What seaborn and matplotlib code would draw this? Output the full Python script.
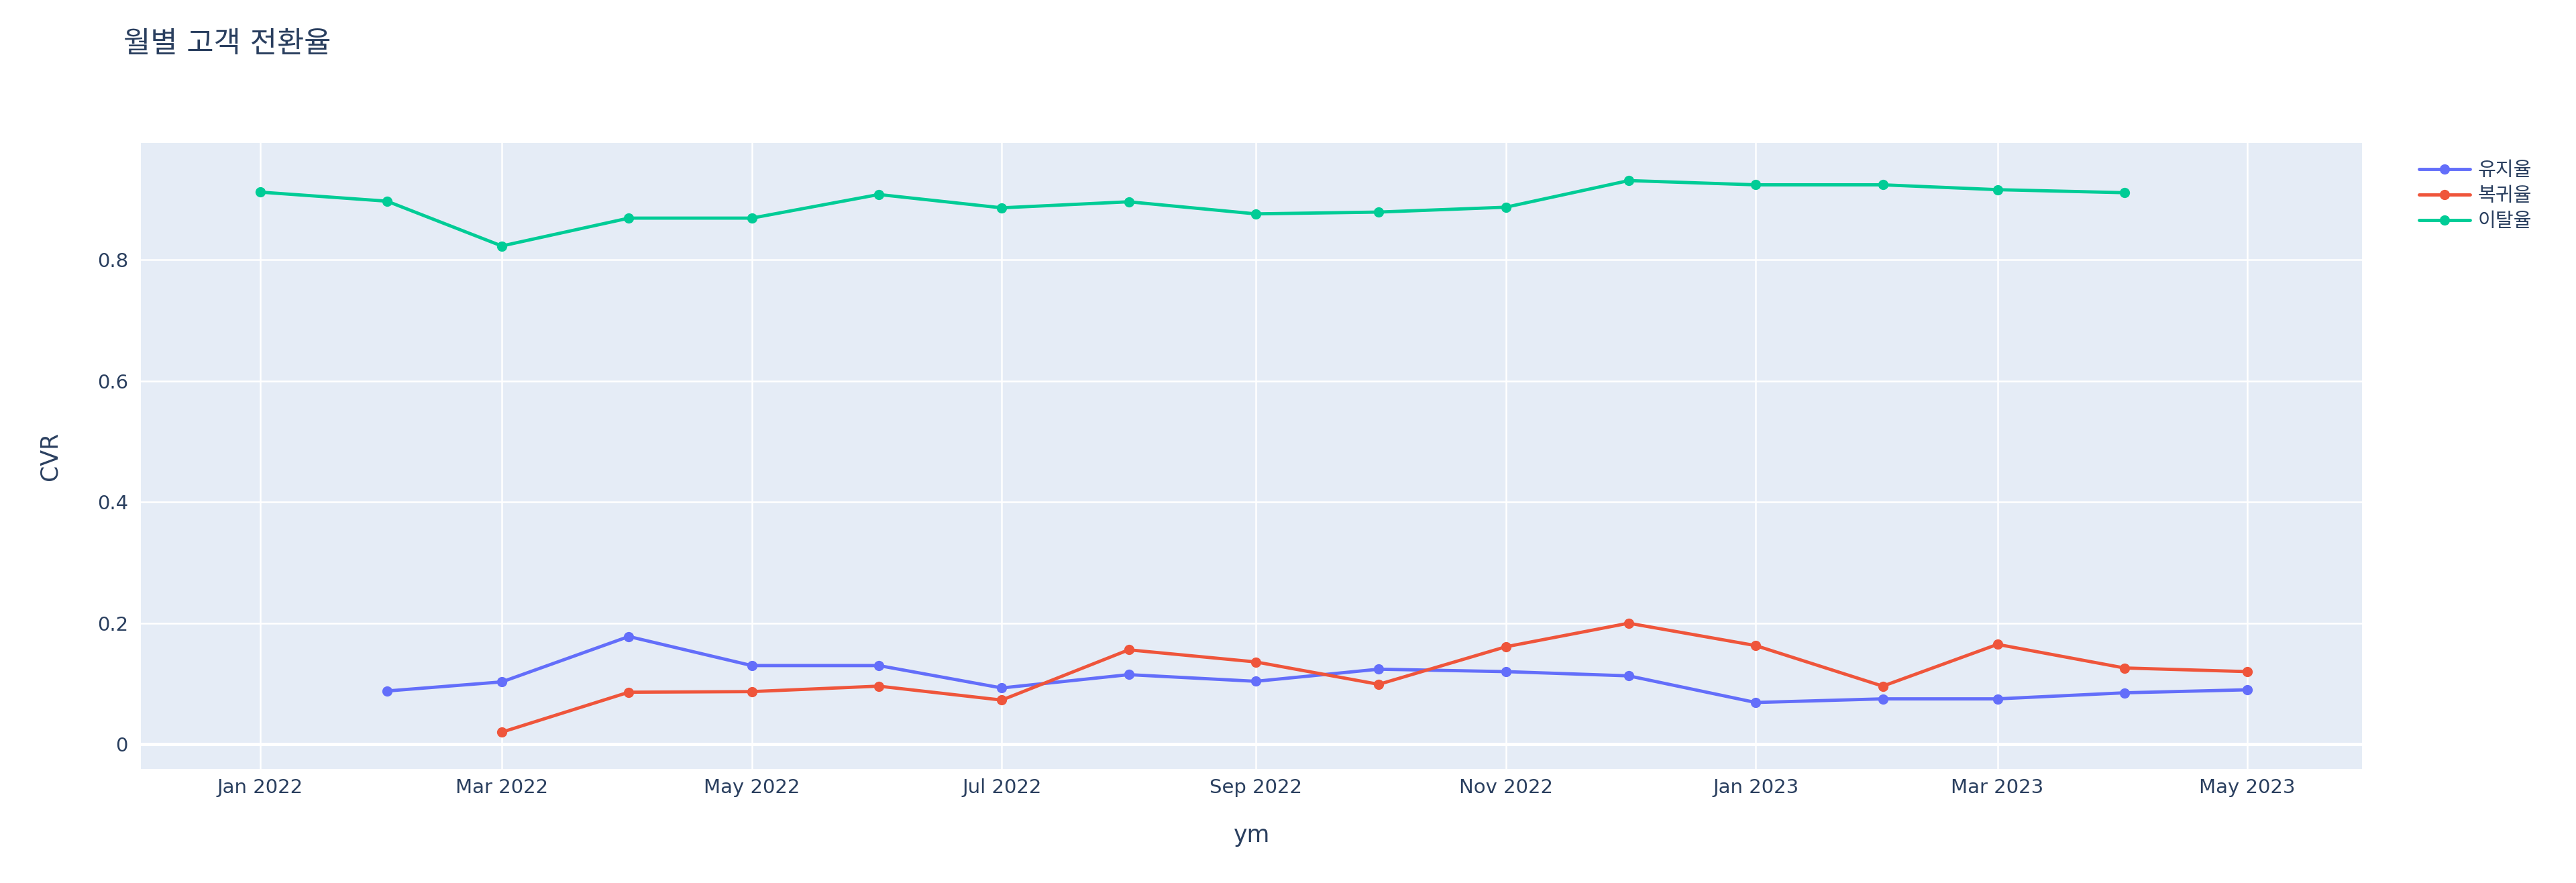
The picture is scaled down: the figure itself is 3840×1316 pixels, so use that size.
import pandas as pd
import numpy as np
import matplotlib
matplotlib.use("Agg")
import matplotlib.pyplot as plt
import matplotlib.dates as mdates
import seaborn as sns

# Data
months = pd.date_range("2022-01-01", "2023-05-01", freq="MS")
retention = [None, 0.088, 0.103, 0.178, 0.130, 0.130, 0.093, 0.115, 0.104,
             0.124, 0.120, 0.113, 0.069, 0.075, 0.075, 0.085, 0.090]
comeback = [None, None, 0.020, 0.086, 0.087, 0.096, 0.073, 0.156, 0.136,
            0.099, 0.161, 0.200, 0.163, 0.096, 0.165, 0.126, 0.120]
churn = [0.912, 0.897, 0.823, 0.869, 0.869, 0.908, 0.886, 0.896, 0.876,
         0.879, 0.887, 0.931, 0.924, 0.924, 0.916, 0.911, None]
series_names = ["유지율", "복귀율", "이탈율"]
colors = ["#636EFA", "#EF553B", "#00CC96"]
y_ticks = [0, 0.2, 0.4, 0.6, 0.8]

TEXT = "#2a3f5f"

def main():
    df = pd.DataFrame({"ym": months, "유지율": retention, "복귀율": comeback, "이탈율": churn})
    long_df = df.melt(id_vars="ym", value_vars=series_names, var_name="variable", value_name="CVR")
    long_df = long_df.dropna(subset=["CVR"])

    sns.set_theme(style="darkgrid", rc={"axes.facecolor": "#E5ECF6", "grid.color": "white"})
    plt.rcParams["font.family"] = ["DejaVu Sans", "Noto Sans CJK KR"]

    fig = plt.figure(figsize=(38.4, 13.16), dpi=100)
    ax = fig.add_axes([0.0548, 0.129, 0.917 - 0.0548, 0.838 - 0.129])

    sns.lineplot(data=long_df, x="ym", y="CVR", hue="variable", hue_order=series_names,
                 palette=colors, marker="o", markersize=11, markeredgewidth=0,
                 linewidth=3.5, ax=ax, zorder=3)

    ax.axhline(0, color="white", lw=3.5, zorder=1)
    ax.set_ylim(-0.041, 0.993)
    ax.set_xlim(pd.Timestamp("2021-12-03"), pd.Timestamp("2023-05-29"))
    ax.set_yticks(y_ticks)
    ax.set_yticklabels(["0", "0.2", "0.4", "0.6", "0.8"])
    ax.xaxis.set_major_locator(mdates.MonthLocator(bymonth=[1, 3, 5, 7, 9, 11]))
    ax.xaxis.set_major_formatter(mdates.DateFormatter("%b %Y"))
    ax.grid(True, color="white", lw=1.8)
    for s in ax.spines.values():
        s.set_visible(False)
    ax.tick_params(axis="both", length=0, labelsize=21, colors=TEXT)
    ax.tick_params(axis="y", pad=14)
    ax.tick_params(axis="x", pad=10)

    ax.set_xlabel("ym", fontsize=25, color=TEXT, labelpad=29)
    ax.set_ylabel("CVR", fontsize=25, color=TEXT, labelpad=38)

    fig.text(0.048, 0.950, "월별 고객 전환율", fontsize=31.5, color=TEXT, va="center", ha="left")

    leg = ax.legend(loc="upper left", bbox_to_anchor=(1.022, 0.984), frameon=False,
                    fontsize=21, handlelength=2.6, handletextpad=0.4, labelspacing=0.35,
                    borderaxespad=0)
    for t in leg.get_texts():
        t.set_color(TEXT)

    fig.savefig("out.png", dpi=100, facecolor="white")
    plt.close(fig)

if __name__ == "__main__":
    main()
